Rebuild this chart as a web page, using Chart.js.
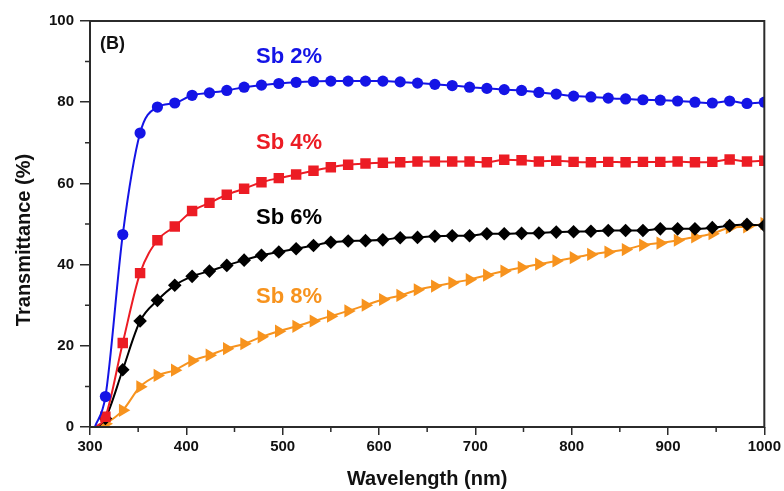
<!DOCTYPE html>
<html lang="en">
<head>
    <meta charset="UTF-8">
    <title>Transmittance vs Wavelength</title>
    <style>
        * {
            margin: 0;
            padding: 0;
            box-sizing: border-box;
        }

        body {
            background: #fff;
            width: 784px;
            height: 491px;
            overflow: hidden;
        }

        .plot {
            position: relative;
            width: 784px;
            height: 491px;
        }
    </style>
</head>
<body>

    <div class="plot">
        <canvas id="transmittanceChart"></canvas>
    </div>

    <script src="https://cdn.jsdelivr.net/npm/chart.js"></script>
    <script>
        // wavelength of each measured (marked) point, nm
        const wavelengths = [316, 334, 352, 370, 388, 406, 424, 442, 460, 478, 496, 514, 532, 550, 568, 586, 604, 622, 640, 658,
                             676, 694, 712, 730, 748, 766, 784, 802, 820, 838, 856, 874, 892, 910, 928, 946, 964, 982, 1000];

        // where each curve leaves zero (no marker)
        const onsetWavelengths = [305, 306, 308, 308];

        const sb2 = [7.5, 47.4, 72.4, 78.8, 79.8, 81.7, 82.3, 82.9, 83.7, 84.2, 84.6, 84.9, 85.1, 85.2, 85.2, 85.2, 85.2, 85.0, 84.7, 84.4,
                     84.1, 83.7, 83.4, 83.1, 82.9, 82.4, 82.0, 81.5, 81.3, 81.0, 80.8, 80.6, 80.5, 80.3, 80.0, 79.8, 80.3, 79.7, 80.0];
        const sb4 = [2.5, 20.7, 37.9, 46.0, 49.4, 53.2, 55.2, 57.2, 58.7, 60.3, 61.3, 62.2, 63.1, 64.0, 64.6, 64.9, 65.1, 65.2, 65.4, 65.4,
                     65.4, 65.4, 65.2, 65.8, 65.7, 65.4, 65.6, 65.3, 65.2, 65.3, 65.2, 65.3, 65.3, 65.4, 65.2, 65.3, 65.9, 65.4, 65.6];
        const sb6 = [2.1, 14.1, 26.1, 31.2, 34.9, 37.1, 38.4, 39.8, 41.1, 42.3, 43.1, 43.9, 44.7, 45.5, 45.8, 45.9, 46.1, 46.6, 46.7, 47.0,
                     47.1, 47.1, 47.6, 47.6, 47.7, 47.8, 48.0, 48.1, 48.2, 48.4, 48.4, 48.4, 48.8, 48.8, 48.8, 49.1, 49.6, 49.9, 49.6];
        const sb8 = [0.8, 4.1, 9.9, 12.7, 14.0, 16.3, 17.7, 19.3, 20.5, 22.2, 23.6, 24.8, 26.1, 27.3, 28.6, 30.0, 31.4, 32.4, 33.8, 34.7,
                     35.5, 36.3, 37.4, 38.4, 39.3, 40.1, 40.9, 41.7, 42.5, 43.1, 43.7, 44.8, 45.3, 46.0, 46.8, 47.6, 49.1, 49.3, 50.1];

        const seriesNames = ['Sb 2%', 'Sb 4%', 'Sb 6%', 'Sb 8%'];
        const seriesValues = [sb2, sb4, sb6, sb8];

        const xTicks = [300, 400, 500, 600, 700, 800, 900, 1000];
        const yTicks = [0, 20, 40, 60, 80, 100];
        const xMinorTicks = [350, 450, 550, 650, 750, 850, 950];
        const yMinorTicks = [10, 30, 50, 70, 90];

        const FONT = '"Liberation Sans", Arial, sans-serif';
        const AXIS = '#2b2b2b';

        const styles = [
            { color: '#1414e6', point: 'circle', radius: 5.6 },
            { color: '#ec1c24', point: 'rect', radius: 7.4, rotation: 0 },
            { color: '#000000', point: 'rectRot', radius: 6.8 },
            { color: '#f7931e', point: 'triangle', radius: 7.6, rotation: 90 }
        ];

        const datasets = seriesValues.map((vals, i) => {
            const pts = [{ x: onsetWavelengths[i], y: 0 }];
            vals.forEach((v, k) => pts.push({ x: wavelengths[k], y: v }));
            const st = styles[i];
            return {
                label: seriesNames[i],
                data: pts,
                borderColor: st.color,
                backgroundColor: st.color,
                borderWidth: 2,
                pointStyle: st.point,
                pointRotation: st.rotation || 0,
                pointRadius: ctx => ctx.dataIndex === 0 ? 0 : st.radius,
                pointBorderWidth: 0,
                pointHoverRadius: st.radius,
                cubicInterpolationMode: 'monotone',
                fill: false
            };
        });

        // labels drawn inside the plot area next to each curve
        const curveLabels = [
            { text: 'Sb 2%', x: 289, y: 57, color: '#1414e6' },
            { text: 'Sb 4%', x: 289, y: 143, color: '#ec1c24' },
            { text: 'Sb 6%', x: 289, y: 218, color: '#000000' },
            { text: 'Sb 8%', x: 289, y: 297, color: '#f7931e' }
        ];

        const framePlugin = {
            id: 'frame',
            afterDraw(chart) {
                const { ctx, chartArea: a, scales: { x, y } } = chart;
                ctx.save();

                // box round the plot
                ctx.strokeStyle = AXIS;
                ctx.lineWidth = 2;
                ctx.strokeRect(a.left, a.top, a.right - a.left, a.bottom - a.top);

                // minor ticks
                ctx.lineWidth = 1.5;
                ctx.beginPath();
                xMinorTicks.forEach(v => {
                    const px = x.getPixelForValue(v);
                    ctx.moveTo(px, a.bottom);
                    ctx.lineTo(px, a.bottom + 5);
                });
                yMinorTicks.forEach(v => {
                    const py = y.getPixelForValue(v);
                    ctx.moveTo(a.left, py);
                    ctx.lineTo(a.left - 5, py);
                });
                ctx.stroke();

                // axis titles
                ctx.fillStyle = '#111';
                ctx.font = 'bold 20px ' + FONT;
                ctx.textAlign = 'center';
                ctx.textBaseline = 'middle';
                ctx.fillText('Wavelength (nm)', (a.left + a.right) / 2, 479);
                ctx.save();
                ctx.translate(24, 240);
                ctx.rotate(-Math.PI / 2);
                ctx.fillText('Transmittance (%)', 0, 0);
                ctx.restore();

                // panel letter
                ctx.font = 'bold 18px ' + FONT;
                ctx.textAlign = 'left';
                ctx.fillText('(B)', 100, 44);

                // curve names
                ctx.font = 'bold 22px ' + FONT;
                ctx.textAlign = 'center';
                curveLabels.forEach(l => {
                    ctx.fillStyle = l.color;
                    ctx.fillText(l.text, l.x, l.y);
                });

                ctx.restore();
            }
        };

        const chartCtx = document.getElementById('transmittanceChart').getContext('2d');
        const transmittanceChart = new Chart(chartCtx, {
            type: 'line',
            data: { datasets: datasets },
            plugins: [framePlugin],
            options: {
                responsive: true,
                maintainAspectRatio: false,
                animation: false,
                layout: {
                    padding: { top: 21, right: 19, left: 0, bottom: 0 }
                },
                plugins: {
                    legend: { display: false },
                    tooltip: { enabled: false }
                },
                scales: {
                    x: {
                        type: 'linear',
                        min: 300,
                        max: 1000,
                        afterBuildTicks: scale => {
                            scale.ticks = xTicks.map(v => ({ value: v }));
                        },
                        afterFit: scale => { scale.height = 64; },
                        border: { display: false },
                        grid: {
                            drawOnChartArea: false,
                            tickLength: 8,
                            tickColor: AXIS,
                            lineWidth: 1.5
                        },
                        ticks: {
                            padding: 3,
                            maxRotation: 0,
                            color: '#111',
                            font: { family: FONT, size: 15, weight: 'bold' },
                            callback: v => String(v)
                        }
                    },
                    y: {
                        min: 0,
                        max: 100,
                        afterBuildTicks: scale => {
                            scale.ticks = yTicks.map(v => ({ value: v }));
                        },
                        afterFit: scale => { scale.width = 90; },
                        border: { display: false },
                        grid: {
                            drawOnChartArea: false,
                            tickLength: 10,
                            tickColor: AXIS,
                            lineWidth: 1.5
                        },
                        ticks: {
                            padding: 6,
                            color: '#111',
                            font: { family: FONT, size: 15, weight: 'bold' },
                            callback: v => String(v)
                        }
                    }
                }
            }
        });
    </script>

</body>
</html>
